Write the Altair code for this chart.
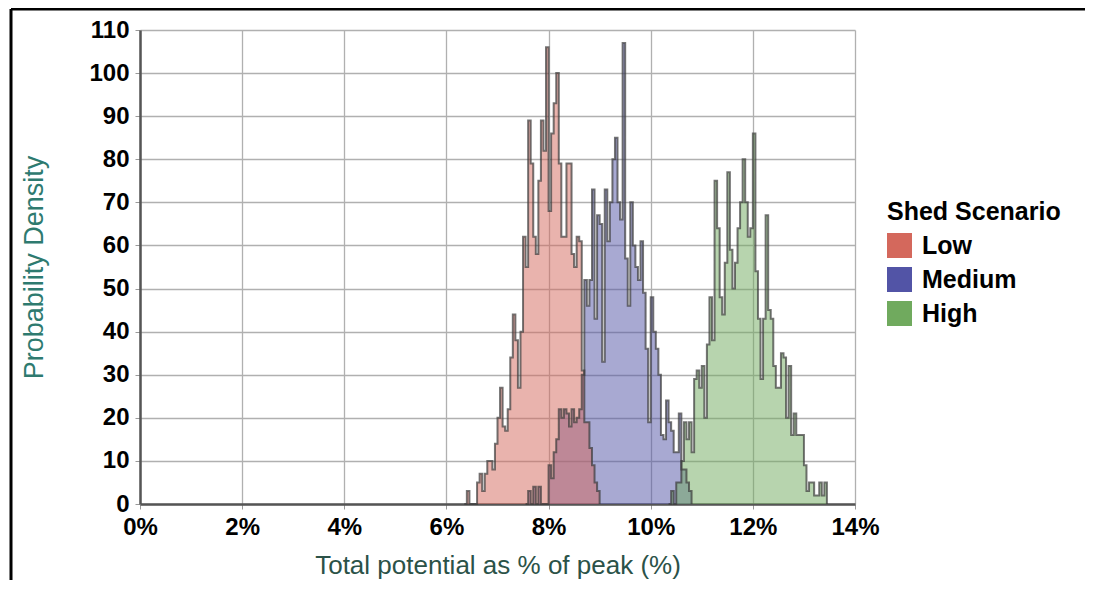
import altair as alt
import pandas as pd

# ---- data (bin width 0.05 percentage points) ----
BIN_WIDTH = 0.0005
scenarios = ["Low", "Medium", "High"]
scenario_colors = ["#d4685c", "#5254a6", "#70aa5e"]

low_start = 0.0635
low_values = [0, 3, 0, 0, 0, 5, 7, 3, 7, 10, 10, 8, 14, 20, 27, 18, 17, 22, 34, 44,
              38, 27, 40, 62, 55, 89, 79, 62, 58, 75, 89, 82, 106, 68, 86, 93, 100,
              79, 62, 62, 79, 79, 58, 55, 62, 61, 31, 19, 19, 13, 9, 5, 3, 0]

medium_start = 0.0755
medium_values = [0, 3, 0, 4, 0, 4, 0, 0, 0, 9, 6, 12, 15, 22, 20, 22, 21, 18, 22, 19,
                 20, 22, 30, 52, 46, 52, 73, 43, 67, 65, 33, 73, 61, 70, 80, 85, 70,
                 66, 107, 57, 46, 70, 60, 55, 52, 61, 49, 36, 19, 48, 40, 36, 30, 16,
                 15, 24, 19, 17, 12, 12, 21, 8, 8, 5, 3, 0]

high_start = 0.1035
high_values = [0, 3, 0, 5, 5, 10, 19, 15, 19, 12, 29, 31, 27, 32, 20, 37, 48, 38, 75,
               64, 48, 44, 56, 77, 59, 50, 56, 64, 70, 80, 70, 62, 64, 86, 54, 43, 29,
               43, 67, 45, 43, 32, 27, 27, 35, 34, 20, 32, 16, 21, 16, 16, 16, 9, 3,
               5, 5, 2, 2, 5, 2, 5, 0]

x_ticks = [0, 0.02, 0.04, 0.06, 0.08, 0.10, 0.12, 0.14]
y_ticks = [0, 10, 20, 30, 40, 50, 60, 70, 80, 90, 100, 110]

rows = []
# drawing order: Medium first, then Low over it, then High
for name, start, vals in [("Medium", medium_start, medium_values),
                          ("Low", low_start, low_values),
                          ("High", high_start, high_values)]:
    for i, v in enumerate(vals):
        rows.append({"scenario": name, "x": round(start + i * BIN_WIDTH, 6), "density": v})
df = pd.DataFrame(rows)

FONT = "Liberation Sans"

x_enc = alt.X(
    "x:Q",
    scale=alt.Scale(domain=[0, 0.14], nice=False),
    axis=alt.Axis(
        values=x_ticks, format=".0%", title="Total potential as % of peak (%)",
        labelFlush=False,
        titleColor="#2b5248", titleFontSize=26, titleFontWeight="normal",
        titleFont=FONT, titlePadding=13,
    ),
)
y_enc = alt.Y(
    "density:Q",
    stack=None,
    scale=alt.Scale(domain=[0, 110], nice=False),
    axis=alt.Axis(
        values=y_ticks, title="Probability Density",
        titleColor="#2e7a6f", titleFontSize=27, titleFontWeight="normal",
        titleFont=FONT, titleX=-92, titleY=237,
    ),
)
color_enc = alt.Color(
    "scenario:N",
    scale=alt.Scale(domain=scenarios, range=scenario_colors),
    legend=alt.Legend(title="Shed Scenario"),
)

base = alt.Chart(df)
areas = base.mark_area(interpolate="step-after", fillOpacity=0.5).encode(
    x=x_enc, y=y_enc, color=color_enc
)
lines = base.mark_line(
    interpolate="step-after", color="#3a3a3a", strokeWidth=2, opacity=0.7
).encode(x=x_enc, y=y_enc, detail="scenario:N")

frame_df = pd.DataFrame({"k": [0]})
frame_top = alt.Chart(frame_df).mark_rule(color="black", strokeWidth=3).encode(
    x=alt.value(-129), x2=alt.value(945), y=alt.value(-21)
)
frame_left = alt.Chart(frame_df).mark_rule(color="black", strokeWidth=3).encode(
    x=alt.value(-129), y=alt.value(-21), y2=alt.value(560)
)

chart = (
    alt.layer(areas, lines, frame_top, frame_left)
    .properties(
        width=715, height=474,
        autosize=alt.AutoSizeParams(type="none"),
        padding={"left": 132, "top": 22, "right": 230, "bottom": 76},
    )
    .configure_view(strokeWidth=0)
    .configure_axis(
        labelFont=FONT, labelFontSize=24, labelFontWeight="bold", labelColor="black",
        domainColor="#555555", domainWidth=2.5,
        gridColor="#b0b0b0", gridWidth=1.3,
        tickColor="#999999", tickSize=5, labelPadding=6,
    )
    .configure_legend(
        orient="none", legendX=747, legendY=170,
        titleFont=FONT, titleFontSize=25, titleFontWeight="bold", titleColor="black",
        labelFont=FONT, labelFontSize=25, labelFontWeight="bold", labelColor="black",
        symbolType="square", symbolSize=625, symbolOpacity=1, symbolStrokeWidth=0,
        rowPadding=8, labelOffset=10, titlePadding=8,
    )
)

chart.save("out.html", embed_options={"renderer": "svg", "actions": False})
